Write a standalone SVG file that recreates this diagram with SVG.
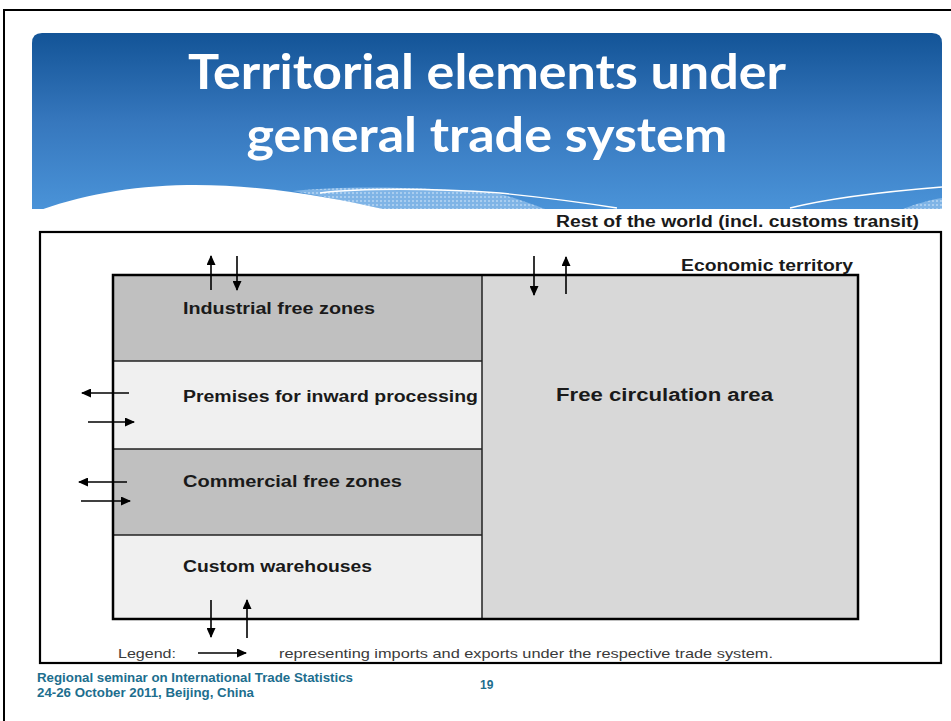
<svg xmlns="http://www.w3.org/2000/svg" width="951" height="721" viewBox="0 0 951 721">
<defs>
<linearGradient id="bg" x1="0" y1="0" x2="0" y2="1">
<stop offset="0" stop-color="#135497"/>
<stop offset="0.5" stop-color="#3677bd"/>
<stop offset="1" stop-color="#4a93d8"/>
</linearGradient>
<pattern id="tex" width="4" height="4" patternUnits="userSpaceOnUse">
<rect width="4" height="4" fill="#7fb4e6"/>
<rect width="2" height="2" fill="#a9cdef"/>
</pattern>
<marker id="ah" markerWidth="10" markerHeight="9" refX="9" refY="4.5" orient="auto" markerUnits="userSpaceOnUse">
<path d="M0,0 L10,4.5 L0,9 Z" fill="#000"/>
</marker>
<style>
.lab{font-family:"Liberation Sans",Arial,sans-serif;font-weight:bold;fill:#1a1a1a}
.ttl{font-family:Lato,"Open Sans",sans-serif;font-weight:bold;fill:#fff;font-size:47px}
.ft{font-family:"Liberation Sans",Arial,sans-serif;font-weight:bold;fill:#1d6e8e;font-size:12px}
.ar{stroke:#000;stroke-width:1.6;fill:none;marker-end:url(#ah)}
.div{stroke:#222;stroke-width:1.5}
</style>
</defs>
<rect x="0" y="0" width="951" height="721" fill="#fff"/>
<rect x="4" y="10" width="960" height="720" fill="none" stroke="#000" stroke-width="2"/>
<g id="banner">
<path d="M32,209 L32,43 Q32,33 42,33 L932,33 Q942,33 942,43 L942,209 Z" fill="url(#bg)"/>
<path d="M293,191 C340,186 420,186 500,194 C515,198 530,203 545,209 L383,209 C350,202 320,196 293,191 Z" fill="url(#tex)"/>
<path d="M903,209 C915,204 930,200 942,198 L942,209 Z" fill="url(#tex)"/>
<path d="M32,213 C80,195 130,186 187,185 C260,184 330,197 383,209 L383,213 Z" fill="#fff"/>
<rect x="32" y="209" width="912" height="5" fill="#fff"/>
<path d="M320,193 C360,188 430,188 500,193 C540,197 580,202 617,208" stroke="#fff" stroke-width="1.3" fill="none"/>
<path d="M942,187 C880,192 830,198 790,208" stroke="#fff" stroke-width="1.3" fill="none"/>
<text class="ttl" x="487" y="89" text-anchor="middle" textLength="598" lengthAdjust="spacingAndGlyphs">Territorial elements under</text>
<text class="ttl" x="487" y="152" text-anchor="middle" textLength="481" lengthAdjust="spacingAndGlyphs">general trade system</text>
</g>
<g id="rest-of-world">
<rect x="40" y="232" width="901" height="431" fill="#fff" stroke="#000" stroke-width="2.2"/>
<text class="lab" x="556" y="227" font-size="16" textLength="363" lengthAdjust="spacingAndGlyphs">Rest of the world (incl. customs transit)</text>
</g>
<g id="economic-territory">
<text class="lab" x="681" y="271" font-size="17" textLength="172" lengthAdjust="spacingAndGlyphs">Economic territory</text>
</g>
<g id="free-circulation-area">
<rect x="482" y="275" width="376" height="344" fill="#d8d8d8"/>
<text class="lab" x="556" y="401" font-size="18" textLength="217" lengthAdjust="spacingAndGlyphs">Free circulation area</text>
</g>
<g id="industrial-free-zones">
<rect x="113" y="275" width="369" height="86" fill="#c0c0c0"/>
<text class="lab" x="183" y="314" font-size="16" textLength="192" lengthAdjust="spacingAndGlyphs">Industrial free zones</text>
</g>
<g id="premises-inward-processing">
<rect x="113" y="361" width="369" height="88" fill="#f0f0f0"/>
<text class="lab" x="183" y="402" font-size="16" textLength="295" lengthAdjust="spacingAndGlyphs">Premises for inward processing</text>
</g>
<g id="commercial-free-zones">
<rect x="113" y="449" width="369" height="86" fill="#c0c0c0"/>
<text class="lab" x="183" y="487" font-size="16" textLength="219" lengthAdjust="spacingAndGlyphs">Commercial free zones</text>
</g>
<g id="custom-warehouses">
<rect x="113" y="535" width="369" height="84" fill="#f0f0f0"/>
<text class="lab" x="183" y="572" font-size="16" textLength="189" lengthAdjust="spacingAndGlyphs">Custom warehouses</text>
</g>
<g id="frame-lines">
<line class="div" x1="113" y1="361" x2="482" y2="361"/>
<line class="div" x1="113" y1="449" x2="482" y2="449"/>
<line class="div" x1="113" y1="535" x2="482" y2="535"/>
<line class="div" x1="482" y1="275" x2="482" y2="619"/>
<rect x="113" y="275" width="745" height="344" fill="none" stroke="#000" stroke-width="2.5"/>
</g>
<g id="connectors">
<line class="ar" x1="211" y1="290" x2="211" y2="256"/>
<line class="ar" x1="237" y1="256" x2="237" y2="290"/>
<line class="ar" x1="534" y1="256" x2="534" y2="295"/>
<line class="ar" x1="566" y1="294" x2="566" y2="257"/>
<line class="ar" x1="129" y1="393" x2="82" y2="393"/>
<line class="ar" x1="88" y1="422" x2="134" y2="422"/>
<line class="ar" x1="127" y1="482" x2="79" y2="482"/>
<line class="ar" x1="81" y1="501" x2="130" y2="501"/>
<line class="ar" x1="211" y1="600" x2="211" y2="637"/>
<line class="ar" x1="247" y1="638" x2="247" y2="600"/>
<line class="ar" x1="198" y1="653" x2="246" y2="653"/>
</g>
<g id="legend">
<text x="118" y="658" font-family="Liberation Sans,Arial,sans-serif" font-size="13" fill="#3a3a3a" textLength="58" lengthAdjust="spacingAndGlyphs">Legend:</text>
<text x="279" y="658" font-family="Liberation Sans,Arial,sans-serif" font-size="13" fill="#3a3a3a" textLength="494" lengthAdjust="spacingAndGlyphs">representing imports and exports under the respective trade system.</text>
</g>
<g id="footer">
<text class="ft" x="37" y="682" textLength="316" lengthAdjust="spacingAndGlyphs">Regional seminar on International Trade Statistics</text>
<text class="ft" x="37" y="697" textLength="217" lengthAdjust="spacingAndGlyphs">24-26 October 2011, Beijing, China</text>
<text class="ft" x="480" y="689">19</text>
</g>
</svg>
